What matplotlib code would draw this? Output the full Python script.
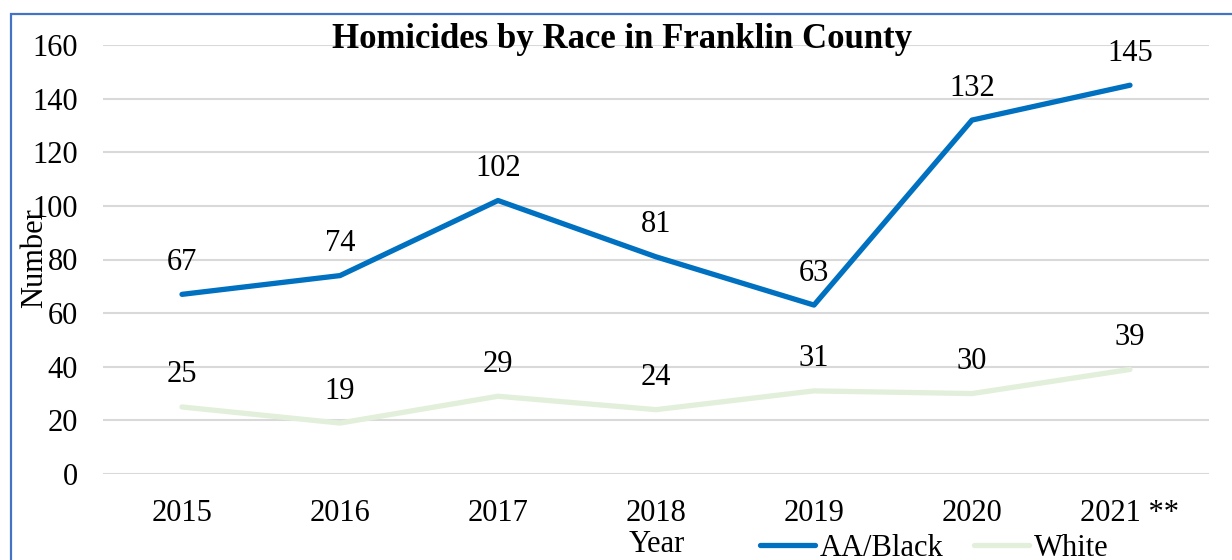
import matplotlib.pyplot as plt
import matplotlib.patches as patches

plt.rcParams['font.family'] = ['Liberation Serif', 'DejaVu Serif']

years = ['2015', '2016', '2017', '2018', '2019', '2020', '2021 **']
black = [67, 74, 102, 81, 63, 132, 145]
white = [25, 19, 29, 24, 31, 30, 39]

blue = '#0070C0'
green = '#E2EFDA'

fig = plt.figure(figsize=(12.32, 5.6), dpi=100)
ax = fig.add_axes([103/1232, 1 - 474/560, (1209 - 103)/1232, (474 - 45)/560])

x = list(range(len(years)))
ax.plot(x, black, color=blue, lw=3.8, solid_capstyle='round', label='AA/Black')
ax.plot(x, white, color=green, lw=3.8, solid_capstyle='round', label='White')

for xi, v in zip(x, black):
    ax.annotate(str(v), (xi, v), xytext=(0, 32), textcoords='offset pixels',
                ha='center', va='center', fontsize=22)
for xi, v in zip(x, white):
    ax.annotate(str(v), (xi, v), xytext=(0, 32), textcoords='offset pixels',
                ha='center', va='center', fontsize=22)

ax.set_xlim(-0.5, len(years) - 0.5)
ax.set_ylim(0, 160)
ax.set_yticks(range(0, 161, 20))
ax.set_xticks(x)
ax.set_xticklabels(years)
ax.tick_params(axis='both', length=0, labelsize=22)
ax.tick_params(axis='y', pad=18)
ax.tick_params(axis='x', pad=18)
ax.grid(axis='y', color='#D9D9D9', lw=1.5)
ax.set_axisbelow(True)
for s in ax.spines.values():
    s.set_visible(False)

fig.text(622/1232, 1 - 40/560, 'Homicides by Race in Franklin County', ha='center',
         va='center', fontsize=25, fontweight='bold')
fig.text(35/1232, 1 - 258/560, 'Number', rotation=90, ha='center', va='center', fontsize=22)
fig.text(657/1232, 1 - 544/560, 'Year', ha='center', va='center', fontsize=22)

fig.legend(loc='center', bbox_to_anchor=(934/1232, 1 - 548/560), ncol=2, frameon=False,
           fontsize=22, handlelength=1.8, handletextpad=0.15, columnspacing=1.0,
           borderaxespad=0)

fig.patches.append(patches.Rectangle((11/1232, -0.2), 1.2, 1.2 - 14/560,
                                     transform=fig.transFigure, fill=False,
                                     edgecolor='#4472C4', lw=1.6, clip_on=False))

fig.savefig('out.png', dpi=100)
